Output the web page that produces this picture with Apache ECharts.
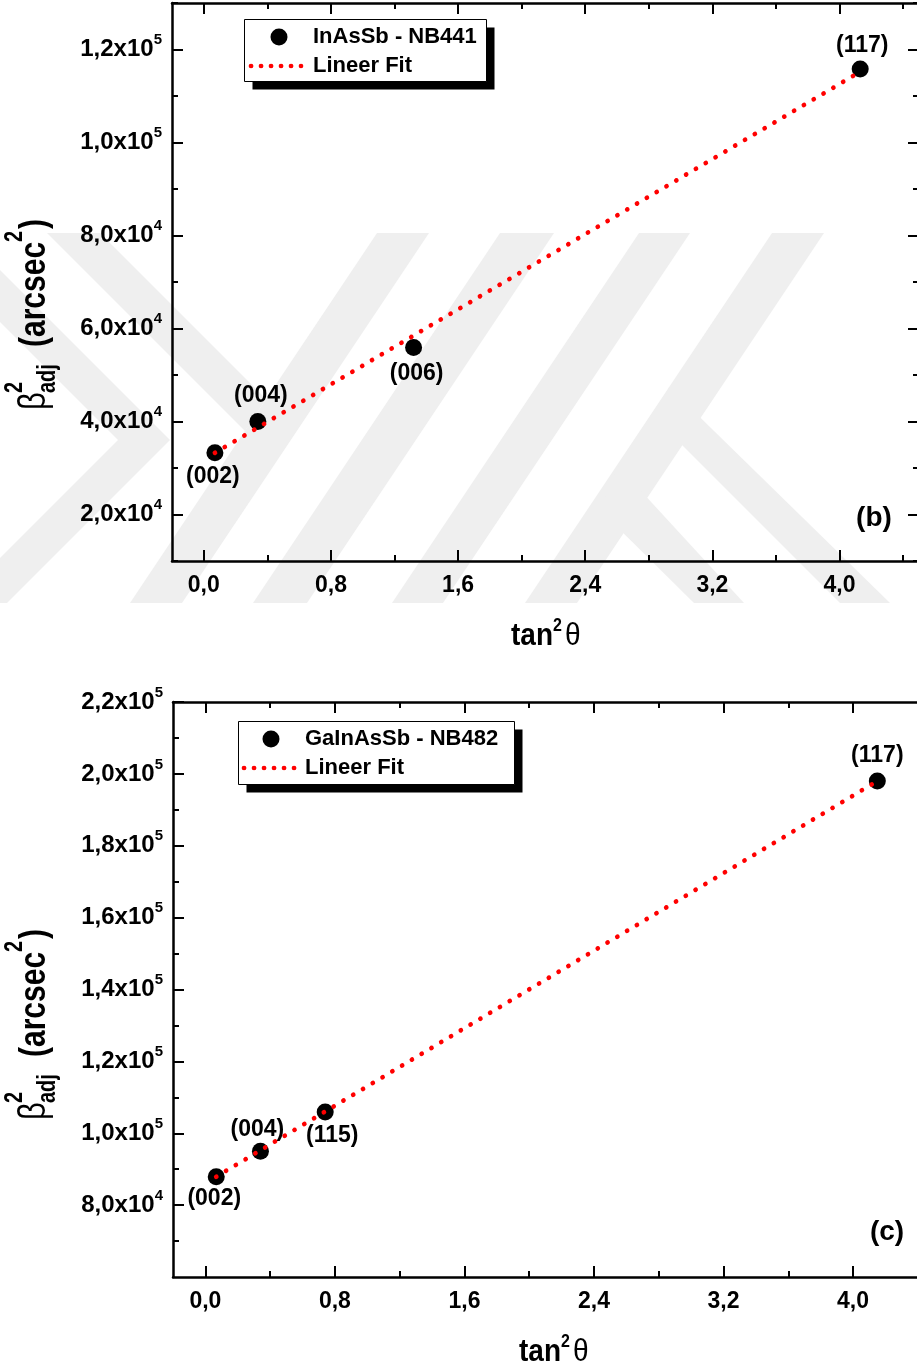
<!DOCTYPE html>
<html>
<head>
<meta charset="utf-8">
<script src="https://cdn.jsdelivr.net/npm/echarts@6/dist/echarts.min.js"></script>
<style>
  html, body { margin: 0; padding: 0; background: #fff; }
  #chart { width: 917px; height: 1372px; }
</style>
</head>
<body>
<div id="chart"></div>
<script>
const FONT = '"Liberation Sans", Arial, Helvetica, sans-serif';

// (b) InAsSb - NB441
const hklB = ['(002)', '(004)', '(006)', '(117)'];
const tan2B = [0.07, 0.34, 1.32, 4.13];
const betaB = [33300, 40000, 55900, 115800];
const fitXB = [0.07, 4.09];
const fitYB = [33250, 114400];

// (c) GaInAsSb - NB482
const hklC = ['(002)', '(004)', '(115)', '(117)'];
const tan2C = [0.067, 0.34, 0.74, 4.15];
const betaC = [87900, 95000, 105900, 198000];
const fitXC = [0.067, 4.15];
const fitYC = [87900, 198000];

// ticks
const xMajor = [0, 0.8, 1.6, 2.4, 3.2, 4.0];
const xMinor = [0.4, 1.2, 2.0, 2.8, 3.6, 4.4];
const yMajorB = [20000, 40000, 60000, 80000, 100000, 120000];
const yMinorB = [10000, 30000, 50000, 70000, 90000, 110000, 130000];
const yMajorC = [80000, 100000, 120000, 140000, 160000, 180000, 200000, 220000];
const yMinorC = [70000, 90000, 110000, 130000, 150000, 170000, 190000, 210000];

// label placement for the point names
const placeB = [
  { position: 'bottom', distance: 4, offset: [-2, 0] },
  { position: 'top', distance: 6, offset: [3, 0] },
  { position: 'bottom', distance: 6, offset: [3, 0] },
  { position: 'top', distance: 3, offset: [2, 0] }
];
const placeC = [
  { position: 'bottom', distance: 2, offset: [-2, 0] },
  { position: 'top', distance: 2, offset: [-3, 0] },
  { position: 'bottom', distance: 4, offset: [7, 0] },
  { position: 'top', distance: 5, offset: [0, 0] }
];

const chart = echarts.init(document.getElementById('chart'), null, { renderer: 'canvas' });

const black = '#000';
const lineW = 2.5;

function yFmt(v) {
  const e = Math.floor(Math.log10(v) + 1e-9);
  const m = (v / Math.pow(10, e)).toFixed(1).replace('.', ',');
  return '{n|' + m + 'x10}{s|' + e + '}';
}

function xAxisSet(gridIndex) {
  const base = {
    gridIndex: gridIndex, type: 'value', min: -0.2, max: 4.5,
    splitLine: { show: false },
    axisLine: { show: true, onZero: false, lineStyle: { color: black, width: lineW } }
  };
  const hidden = { show: false, onZero: false };
  const major = { show: true, inside: true, length: 11, customValues: xMajor, lineStyle: { color: black, width: 2 } };
  const minor = { show: true, inside: true, length: 6, customValues: xMinor, lineStyle: { color: black, width: 2 } };
  return [
    Object.assign({}, base, {
      position: 'bottom', axisTick: major,
      axisLabel: {
        customValues: xMajor, margin: 13, color: black, fontFamily: FONT, fontWeight: 'bold', fontSize: 23,
        formatter: function (v) { return v.toFixed(1).replace('.', ','); }
      }
    }),
    Object.assign({}, base, { position: 'bottom', axisLine: hidden, axisTick: minor, axisLabel: { show: false } }),
    Object.assign({}, base, { position: 'top', axisTick: major, axisLabel: { show: false } }),
    Object.assign({}, base, { position: 'top', axisLine: hidden, axisTick: minor, axisLabel: { show: false } })
  ];
}

function yAxisSet(gridIndex, min, max, majors, minors) {
  const base = {
    gridIndex: gridIndex, type: 'value', min: min, max: max,
    splitLine: { show: false },
    axisLine: { show: true, onZero: false, lineStyle: { color: black, width: lineW } }
  };
  const hidden = { show: false, onZero: false };
  const major = { show: true, inside: true, length: 11, customValues: majors, lineStyle: { color: black, width: 2 } };
  const minor = { show: true, inside: true, length: 6, customValues: minors, lineStyle: { color: black, width: 2 } };
  return [
    Object.assign({}, base, {
      position: 'left', axisTick: major,
      axisLabel: {
        customValues: majors, margin: 10, formatter: yFmt,
        rich: {
          n: { color: black, fontFamily: FONT, fontWeight: 'bold', fontSize: 24, lineHeight: 34, verticalAlign: 'middle' },
          s: { color: black, fontFamily: FONT, fontWeight: 'bold', fontSize: 15, lineHeight: 15, verticalAlign: 'top' }
        }
      }
    }),
    Object.assign({}, base, { position: 'left', axisLine: hidden, axisTick: minor, axisLabel: { show: false } }),
    Object.assign({}, base, { position: 'right', axisTick: major, axisLabel: { show: false } }),
    Object.assign({}, base, { position: 'right', axisLine: hidden, axisTick: minor, axisLabel: { show: false } })
  ];
}

function points(xs, ys, names, place) {
  return xs.map(function (x, i) {
    return { value: [x, ys[i]], name: names[i], label: place[i] };
  });
}

function scatter(axisIndex, data) {
  return {
    type: 'scatter', xAxisIndex: axisIndex, yAxisIndex: axisIndex,
    symbol: 'circle', symbolSize: 17, itemStyle: { color: black, opacity: 1 },
    label: { show: true, formatter: '{b}', color: black, opacity: 1, fontFamily: FONT, fontWeight: 'bold', fontSize: 23 },
    emphasis: { disabled: true }, silent: true, z: 2,
    data: data
  };
}

function fit(axisIndex, xs, ys) {
  return {
    type: 'line', xAxisIndex: axisIndex, yAxisIndex: axisIndex,
    symbol: 'none', showSymbol: false, silent: true, z: 3,
    lineStyle: { color: '#ff0000', width: 4.7, type: [0.1, 11.3], cap: 'round', opacity: 1 },
    data: xs.map(function (x, i) { return [x, ys[i]]; })
  };
}

// helpers for the drawn texts
function txt(text, x, baseline, fs, bold, align) {
  return {
    type: 'text', x: x, y: baseline - 0.35 * fs, silent: true,
    style: {
      text: text, fill: black, fontFamily: FONT, fontSize: fs, fontWeight: bold ? 'bold' : 'normal',
      align: align || 'left', textAlign: align || 'left', verticalAlign: 'middle', textVerticalAlign: 'middle'
    }
  };
}

function yTitle(x, y) {
  return {
    type: 'group', x: x, y: y, rotation: Math.PI / 2, scaleX: 1, scaleY: 1.25,
    children: [
      txt('β', 0, 0, 31, false),
      txt('2', 17, -19, 20, true),
      txt('adj', 17, 7, 20, true),
      txt('(arcsec', 63, 0, 30, true),
      txt('2', 168, -19, 20, true),
      txt(')', 181, 0, 30, true)
    ]
  };
}

function xTitle(x, y) {
  return {
    type: 'group', x: x, y: y, scaleX: 1, scaleY: 1.15,
    children: [
      txt('tan', 0, 0, 28, true),
      txt('2', 42, -13, 16, true),
      txt('θ', 54, 0, 28, false)
    ]
  };
}

function legendBox(x, y, w, h, markerX, dotX0, dotX1, textX, label) {
  const row1 = y + 17.5, row2 = y + 46.5;
  return {
    type: 'group',
    children: [
      { type: 'rect', shape: { x: x + 8, y: y + 8, width: w, height: h }, style: { fill: black }, silent: true },
      { type: 'rect', shape: { x: x, y: y, width: w, height: h }, style: { fill: '#fff', stroke: black, lineWidth: 1 }, silent: true },
      { type: 'circle', shape: { cx: markerX, cy: row1, r: 8.5 }, style: { fill: black }, silent: true },
      { type: 'line', shape: { x1: dotX0, y1: row2, x2: dotX1, y2: row2 },
        style: { stroke: '#ff0000', lineWidth: 4.7, lineDash: [0.1, 9.9], lineCap: 'round' }, silent: true },
      txt(label, textX, row1 + 8, 22, true),
      txt('Lineer Fit', textX, row2 + 8, 22, true)
    ]
  };
}

// light watermark behind the upper panel
const wmFill = '#efefef';
const watermark = [
  [[0, 270], [170, 440], [7, 603], [0, 603], [0, 558], [118, 440], [0, 322]],
  [[47, 233], [100, 233], [266, 399], [245, 431]],
  [[377, 233], [429, 233], [182, 603], [130, 603]],
  [[500, 233], [554, 233], [307, 603], [253, 603]],
  [[639, 233], [690, 233], [443, 603], [392, 603]],
  [[772, 233], [824, 233], [577, 603], [525, 603]],
  [[669, 387], [890, 603], [840, 603], [660, 423]],
  [[618, 466], [744, 603], [694, 603], [600, 510]]
].map(function (pts) {
  return { type: 'polygon', shape: { points: pts }, style: { fill: wmFill }, z: -10, silent: true };
});

const option = {
  animation: false,
  backgroundColor: '#fff',
  grid: [
    { left: 172, top: 3, width: 747, height: 558, containLabel: false, outerBoundsMode: 'none' },
    { left: 173, top: 702, width: 761, height: 575, containLabel: false, outerBoundsMode: 'none' }
  ],
  xAxis: xAxisSet(0).concat(xAxisSet(1)),
  yAxis: yAxisSet(0, 10000, 130000, yMajorB, yMinorB).concat(yAxisSet(1, 60000, 220000, yMajorC, yMinorC)),
  series: [
    scatter(0, points(tan2B, betaB, hklB, placeB)),
    fit(0, fitXB, fitYB),
    scatter(4, points(tan2C, betaC, hklC, placeC)),
    fit(4, fitXC, fitYC)
  ],
  graphic: watermark.concat([
    legendBox(244.5, 19.5, 242, 62, 279, 251, 301, 313, 'InAsSb - NB441'),
    legendBox(238.5, 721.5, 276, 63, 271, 244, 295, 305, 'GaInAsSb - NB482'),
    yTitle(48, 410),
    yTitle(48, 1120),
    xTitle(511, 647),
    xTitle(519, 1363),
    txt('(b)', 874, 528, 28, true, 'center'),
    txt('(c)', 887, 1242, 28, true, 'center')
  ])
};

chart.setOption(option);
</script>
</body>
</html>
